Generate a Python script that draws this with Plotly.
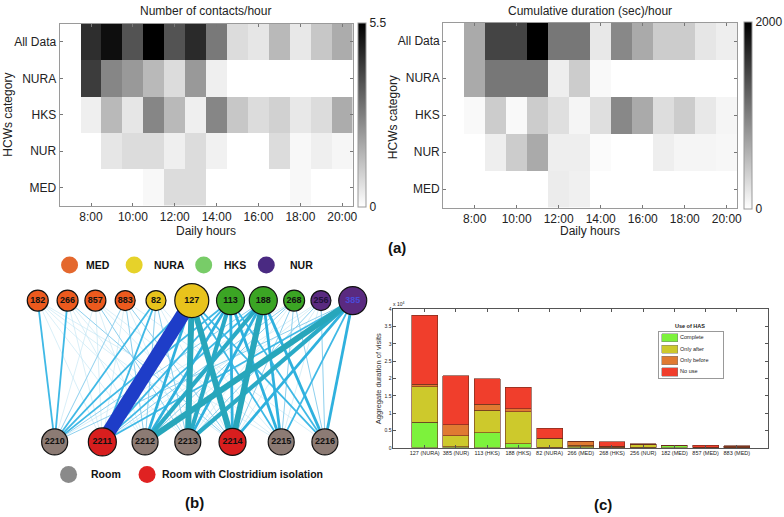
import plotly.graph_objects as go

W, H = 784, 517
FONT = "Liberation Sans, Arial, sans-serif"


def px(x):
    return x / W


def py(y):
    return 1 - y / H


# ---------------- (a) heatmaps ----------------
hours = list(range(7, 21))
hour_ticks = [8, 10, 12, 14, 16, 18, 20]
hour_tick_text = ["8:00", "10:00", "12:00", "14:00", "16:00", "18:00", "20:00"]
categories = ["All Data", "NURA", "HKS", "NUR", "MED"]

contacts = [
    [0, 4.5, 5.2, 3.7, 5.5, 3.7, 4.6, 2.9, 0.75, 0.55, 1.5, 0.5, 1.2, 1.8],
    [0, 4.2, 2.6, 2.2, 1.5, 0.75, 2.2, 0.35, 0, 0, 0, 0, 0, 0],
    [0, 0.35, 1.5, 0.55, 2.6, 1.5, 0.35, 2.6, 1.2, 0.75, 1.0, 0.5, 0.75, 1.8],
    [0, 0, 0.55, 0.75, 0.75, 0.35, 0.75, 0.3, 0, 0, 0.75, 0.15, 0.35, 0.2],
    [0, 0, 0, 0, 0.15, 0.75, 0.75, 0, 0, 0, 0, 0.15, 0, 0],
]
contacts_max = 5.5

duration = [
    [0, 670, 1470, 1470, 2000, 1070, 1070, 180, 930, 670, 400, 400, 200, 130],
    [0, 670, 1070, 1070, 1070, 130, 400, 50, 0, 0, 0, 0, 0, 0],
    [0, 50, 400, 50, 400, 250, 80, 250, 930, 670, 270, 400, 180, 80],
    [0, 0, 130, 400, 670, 130, 130, 30, 0, 0, 130, 80, 80, 60],
    [0, 0, 0, 0, 0, 150, 120, 0, 0, 0, 0, 0, 0, 0],
]
duration_max = 2000

# ---------------- (b) network ----------------
top_nodes = ["182", "266", "857", "883", "82", "127", "113", "188", "268", "256", "385"]
top_group = ["MED", "MED", "MED", "MED", "NURA", "NURA", "HKS", "HKS", "HKS", "NUR", "NUR"]
top_x = [38, 68, 96, 126, 157, 193, 232, 265, 296, 323, 355]
top_size = [21, 21, 21, 20, 20, 34, 28, 28, 21, 20, 28]
rooms = ["2210", "2211", "2212", "2213", "2214", "2215", "2216"]
room_isolation = [False, True, False, False, True, False, False]
room_x = [55, 103, 146, 189, 234, 283, 327]
room_size = [26, 28, 26, 26, 27, 26, 26]

# edge strength level (0 = no edge), rows = top nodes, cols = rooms
edge_levels = [
    [3, 1, 1, 1, 1, 1, 0],
    [3, 1, 1, 1, 2, 0, 0],
    [1, 1, 1, 2, 1, 1, 0],
    [2, 1, 2, 1, 2, 0, 1],
    [3, 3, 2, 2, 1, 1, 0],
    [3, 7, 4, 6, 6, 3, 3],
    [3, 3, 4, 5, 4, 4, 3],
    [2, 3, 5, 4, 6, 4, 4],
    [1, 2, 2, 1, 2, 2, 2],
    [0, 1, 1, 2, 1, 1, 2],
    [2, 3, 6, 5, 4, 3, 4],
]
level_style = {
    1: (0.6, "#bfe4f4"),
    2: (1.0, "#8ed0ee"),
    3: (1.8, "#3fb9e6"),
    4: (2.8, "#2fb1de"),
    5: (4.2, "#2aaac6"),
    6: (6.0, "#27a6bb"),
    7: (14.0, "#1e3dc8"),
}
group_names = ["MED", "NURA", "HKS", "NUR"]
group_colors = {"MED": "#ec5a1e", "NURA": "#e8c31c", "HKS": "#3ba524", "NUR": "#5a2a80"}
legend_group_colors = {"MED": "#e4682e", "NURA": "#e6d22a", "HKS": "#78cc68", "NUR": "#4a2a82"}
room_types = ["Room", "Room with Clostridium isolation"]
room_type_colors = ["#8a8a8a", "#e02222"]

# ---------------- (c) stacked bars ----------------
hcw_ids = ["127 (NURA)", "385 (NUR)", "113 (HKS)", "188 (HKS)", "82 (NURA)", "266 (MED)",
           "268 (HKS)", "256 (NUR)", "182 (MED)", "857 (MED)", "883 (MED)"]
# values in units of 10^4
complete = [0.74, 0.03, 0.43, 0.11, 0.01, 0.03, 0.01, 0.01, 0.07, 0.0, 0.01]
only_after = [1.02, 0.32, 0.66, 0.93, 0.25, 0.04, 0.02, 0.09, 0.01, 0.01, 0.0]
only_before = [0.08, 0.31, 0.17, 0.09, 0.01, 0.12, 0.02, 0.0, 0.0, 0.01, 0.03]
no_use = [1.99, 1.42, 0.73, 0.62, 0.30, 0.0, 0.12, 0.01, 0.0, 0.06, 0.02]
has_labels = ["Complete", "Only after", "Only before", "No use"]
has_colors = ["#7df23c", "#cdc92c", "#e07a32", "#f03e2c"]
y_ticks = [0, 0.5, 1, 1.5, 2, 2.5, 3, 3.5, 4]

fig = go.Figure()

gray = [[0, "#ffffff"], [1, "#000000"]]

fig.add_trace(go.Heatmap(
    x=hours, y=categories, z=contacts, zmin=0, zmax=contacts_max, colorscale=gray,
    xaxis="x", yaxis="y", hoverinfo="skip",
    colorbar=dict(x=px(360), xanchor="left", y=py(113), yanchor="middle",
                  len=184, lenmode="pixels", thickness=8, thicknessmode="pixels",
                  outlinecolor="#999", outlinewidth=1, tickvals=[0, contacts_max],
                  ticktext=["0", "5.5"], ticks="",
                  tickfont=dict(family=FONT, size=12, color="#222"), xpad=0, ypad=0),
))
fig.add_trace(go.Heatmap(
    x=hours, y=categories, z=duration, zmin=0, zmax=duration_max, colorscale=gray,
    xaxis="x2", yaxis="y2", hoverinfo="skip",
    colorbar=dict(x=px(749), xanchor="left", y=py(113.5), yanchor="middle",
                  len=187, lenmode="pixels", thickness=8, thicknessmode="pixels",
                  outlinecolor="#999", outlinewidth=1, tickvals=[0, duration_max],
                  ticktext=["0", "2000"], ticks="",
                  tickfont=dict(family=FONT, size=12, color="#222"), xpad=0, ypad=0),
))

# network edges grouped by level
for lvl in sorted(level_style):
    xs, ys = [], []
    for i, row in enumerate(edge_levels):
        for j, v in enumerate(row):
            if v == lvl:
                xs += [top_x[i], room_x[j], None]
                ys += [1, 0, None]
    if xs:
        w, c = level_style[lvl]
        fig.add_trace(go.Scatter(x=xs, y=ys, mode="lines", line=dict(color=c, width=w),
                                 xaxis="x3", yaxis="y3", hoverinfo="skip", showlegend=False))

label_colors = ["#111"] * 9 + ["#1e1038", "#4a4ad8"]
fig.add_trace(go.Scatter(
    x=top_x, y=[1] * len(top_x), mode="markers+text", text=top_nodes,
    marker=dict(size=top_size, color=[group_colors[g] for g in top_group], opacity=1,
                line=dict(color="#111", width=1.2)),
    textfont=dict(family=FONT, size=9, color=label_colors, weight="bold"),
    textposition="middle center", xaxis="x3", yaxis="y3", hoverinfo="skip", showlegend=False))
fig.add_trace(go.Scatter(
    x=room_x, y=[0] * len(room_x), mode="markers+text", text=rooms,
    marker=dict(size=room_size, color=["#d81e1e" if r else "#8c7b74" for r in room_isolation],
                opacity=1, line=dict(color="#111", width=1.2)),
    textfont=dict(family=FONT, size=9, color="#111", weight="bold"),
    textposition="middle center", xaxis="x3", yaxis="y3", hoverinfo="skip", showlegend=False))

# network legends
leg_x = [70, 135, 205, 268]
fig.add_trace(go.Scatter(
    x=leg_x, y=[1.252] * 4, mode="markers",
    marker=dict(size=17, color=[legend_group_colors[g] for g in group_names], opacity=1),
    xaxis="x3", yaxis="y3", hoverinfo="skip", showlegend=False))
fig.add_trace(go.Scatter(
    x=[69, 148], y=[-0.231] * 2, mode="markers",
    marker=dict(size=17, color=room_type_colors, opacity=1),
    xaxis="x3", yaxis="y3", hoverinfo="skip", showlegend=False))

# stacked bars
for vals, name, col in zip([complete, only_after, only_before, no_use], has_labels, has_colors):
    fig.add_trace(go.Bar(
        x=list(range(len(hcw_ids))), y=vals, name=name, marker=dict(color=col, line=dict(color="#6b2b1c", width=0.6)),
        width=0.83, xaxis="x4", yaxis="y4", hoverinfo="skip", showlegend=False))

# bar legend (mini axes)
fig.add_trace(go.Bar(
    y=has_labels, x=[0.25] * 4, base=[0.046] * 4, orientation="h", width=0.72,
    marker=dict(color=has_colors, line=dict(color="#777", width=0.5)),
    xaxis="x5", yaxis="y5", hoverinfo="skip", showlegend=False))
fig.add_trace(go.Scatter(
    y=has_labels, x=[0.33] * 4, mode="text", text=has_labels, textposition="middle right",
    textfont=dict(family=FONT, size=5.5, color="#222"),
    xaxis="x5", yaxis="y5", hoverinfo="skip", showlegend=False))

hm_axis = dict(showline=True, linecolor="#9a9a9a", linewidth=1, mirror="ticks", ticks="inside",
               ticklen=3, tickcolor="#777", showgrid=False, zeroline=False,
               tickfont=dict(family=FONT, size=12, color="#222"))

fig.update_layout(
    width=W, height=H, margin=dict(l=0, r=0, t=0, b=0), paper_bgcolor="white", plot_bgcolor="white",
    showlegend=False, barmode="stack", font=dict(family=FONT), hovermode=False,
    xaxis=dict(domain=[px(60), px(355)], range=[6.5, 20.5], tickvals=hour_ticks, ticktext=hour_tick_text,
               anchor="y", **hm_axis),
    yaxis=dict(domain=[py(205), py(21)], range=[4.5, -0.5], type="category", anchor="x", **hm_axis),
    xaxis2=dict(domain=[px(446), px(742)], range=[6.5, 20.5], tickvals=hour_ticks, ticktext=hour_tick_text,
                anchor="y2", **hm_axis),
    yaxis2=dict(domain=[py(207), py(20)], range=[4.5, -0.5], type="category", anchor="x2", **hm_axis),
    xaxis3=dict(domain=[0, px(400)], range=[0, 400], visible=False, anchor="y3"),
    yaxis3=dict(domain=[0, py(240)], range=[-0.51, 1.427], visible=False, anchor="x3"),
    xaxis4=dict(domain=[px(396), px(773)], range=[-1, 11], tickvals=list(range(len(hcw_ids))),
                ticktext=hcw_ids, ticks="inside", ticklen=3, tickcolor="#555",
                showline=True, linecolor="#555", linewidth=1, mirror="ticks", showgrid=False,
                zeroline=False, tickfont=dict(family=FONT, size=5.5, color="#222"), anchor="y4",
                tickangle=0),
    yaxis4=dict(domain=[py(450), py(310)], range=[0, 4], tickvals=y_ticks,
                ticktext=[f"{v:g}" for v in y_ticks], ticks="inside", ticklen=3, tickcolor="#555",
                showline=True, linecolor="#555", linewidth=1, mirror="ticks", showgrid=False,
                zeroline=False, tickfont=dict(family=FONT, size=5, color="#222"), anchor="x4"),
    xaxis5=dict(domain=[px(663), px(728)], range=[0, 1], showticklabels=False, ticks="",
                showline=True, linecolor="#999", linewidth=1, mirror=True, showgrid=False,
                zeroline=False, anchor="y5"),
    yaxis5=dict(domain=[py(379), py(333)], range=[3.5, -0.5], type="category", showticklabels=False,
                ticks="", showline=True, linecolor="#999", linewidth=1, mirror=True, showgrid=False,
                zeroline=False, anchor="x5"),
)

ann = []


def add_text(text, x, y, size=12, color="#222", bold=False, angle=0, xanchor="center"):
    ann.append(dict(text=f"<b>{text}</b>" if bold else text, x=px(x), y=py(y), xref="paper",
                    yref="paper", showarrow=False, font=dict(family=FONT, size=size, color=color),
                    textangle=angle, xanchor=xanchor, yanchor="middle"))


add_text("Number of contacts/hour", 207, 8)
add_text("Cumulative duration (sec)/hour", 594, 8)
add_text("Daily hours", 207, 231)
add_text("Daily hours", 594, 231)
add_text("HCWs category", 8, 113, angle=-90)
add_text("HCWs category", 395, 115, angle=-90)
add_text("(a)", 400, 247, size=15, color="#111", bold=True)
add_text("(b)", 196, 505, size=15, color="#111", bold=True)
add_text("(c)", 607, 507, size=15, color="#111", bold=True)

for g, xg in zip(group_names, [85, 153, 223, 290]):
    add_text(g, xg, 265, size=10.5, color="#111", bold=True, xanchor="left")
add_text(room_types[0], 90, 477, size=10.5, color="#111", bold=True, xanchor="left")
add_text(room_types[1], 161, 477, size=10.5, color="#111", bold=True, xanchor="left")

add_text("Use of HAS", 694, 327, size=5.5, color="#222", bold=True)
add_text("x 10<sup>4</sup>", 401, 305, size=5, color="#222")
add_text("Aggregate duration of visits", 381, 380, size=7.5, color="#333", angle=-90)

fig.update_layout(annotations=ann)
fig.write_html("out.html", config={"displayModeBar": False},
               post_script="document.body.style.margin='0px';document.body.style.padding='0px';")
